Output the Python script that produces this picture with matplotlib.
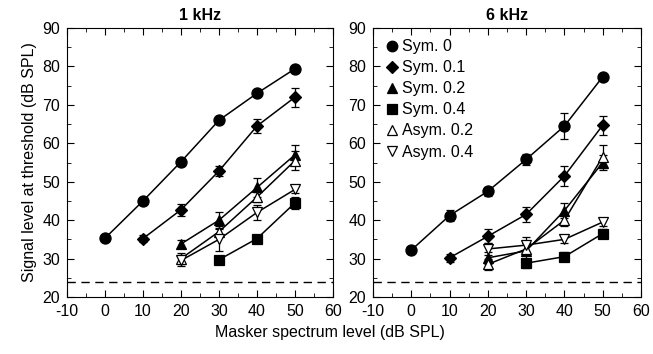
import matplotlib
matplotlib.use("Agg")
import matplotlib.pyplot as plt
from matplotlib.ticker import MultipleLocator
from matplotlib.lines import Line2D

plt.rcParams['font.family'] = ['Liberation Sans', 'DejaVu Sans']
plt.rcParams['axes.unicode_minus'] = False

labels = ["Sym. 0", "Sym. 0.1", "Sym. 0.2", "Sym. 0.4", "Asym. 0.2", "Asym. 0.4"]
markers = ["o", "D", "^", "s", "^", "v"]
filled = [True, True, True, True, False, False]
msizes = [8, 6, 7, 7, 7, 7]

# 1 kHz
k1_x = [[0, 10, 20, 30, 40, 50], [10, 20, 30, 40, 50], [20, 30, 40, 50],
        [30, 40, 50], [20, 30, 40, 50], [20, 30, 40, 50]]
k1_y = [[35.3, 45.0, 55.2, 66.0, 73.0, 79.4],
        [35.2, 42.7, 52.8, 64.5, 72.0],
        [33.8, 40.0, 48.5, 57.0],
        [29.7, 35.2, 44.5],
        [30.0, 37.0, 46.0, 55.5],
        [29.5, 35.0, 42.0, 48.0]]
k1_e = [[0.5, 0.5, 0.5, 0.6, 0.5, 0.5],
        [1.0, 1.5, 1.2, 1.8, 2.5],
        [1.0, 2.2, 2.5, 2.5],
        [0.5, 1.0, 1.5],
        [1.5, 1.5, 1.2, 2.5],
        [1.5, 3.0, 2.0, 1.0]]

# 6 kHz
k6_x = [[0, 10, 20, 30, 40, 50], [10, 20, 30, 40, 50], [20, 30, 40, 50],
        [30, 40, 50], [20, 30, 40, 50], [20, 30, 40, 50]]
k6_y = [[32.2, 41.2, 47.5, 55.8, 64.5, 77.3],
        [30.2, 35.8, 41.5, 51.5, 64.7],
        [30.2, 32.0, 42.5, 55.0],
        [28.8, 30.5, 36.5],
        [28.5, 32.5, 40.0, 56.5],
        [32.5, 33.5, 35.0, 39.5]]
k6_e = [[0.6, 1.5, 1.2, 1.5, 3.5, 0.8],
        [1.0, 1.8, 2.0, 2.5, 2.5],
        [1.5, 2.0, 2.0, 2.0],
        [1.2, 1.2, 1.2],
        [1.5, 1.5, 1.5, 3.0],
        [1.5, 2.0, 1.0, 1.0]]

floor_level = 24

fig = plt.figure(figsize=(6.53, 3.54), dpi=100)
ax1 = fig.add_axes([67/653, 1 - 297/354, 266/653, 269/354])
ax2 = fig.add_axes([373/653, 1 - 297/354, 268/653, 269/354])

for ax, xs, ys, es, title in [(ax1, k1_x, k1_y, k1_e, "1 kHz"),
                              (ax2, k6_x, k6_y, k6_e, "6 kHz")]:
    for i in range(len(labels)):
        ax.errorbar(xs[i], ys[i], yerr=es[i], color="black", lw=1.1,
                    marker=markers[i], ms=msizes[i],
                    mfc="black" if filled[i] else "white", mec="black",
                    mew=0.9, capsize=3, elinewidth=0.9, zorder=3)
    ax.axhline(floor_level, color="black", ls=(0, (6, 4)), lw=1)
    ax.set_xlim(-10, 60)
    ax.set_ylim(20, 90)
    ax.xaxis.set_major_locator(MultipleLocator(10))
    ax.yaxis.set_major_locator(MultipleLocator(10))
    ax.xaxis.set_minor_locator(MultipleLocator(5))
    ax.yaxis.set_minor_locator(MultipleLocator(5))
    ax.tick_params(which="both", direction="in", top=True, right=True,
                   labelsize=11.5, pad=5)
    ax.tick_params(which="major", length=5)
    ax.tick_params(which="minor", length=3)
    ax.set_title(title, fontsize=11.5, fontweight="bold", pad=6)

ax1.set_ylabel("Signal level at threshold (dB SPL)", fontsize=11.5)
fig.text(330/653, 1 - 333/354, "Masker spectrum level (dB SPL)",
         ha="center", va="center", fontsize=11.5)

handles = [Line2D([], [], ls="none", marker=markers[i], ms=msizes[i] * 0.95,
                  mfc="black" if filled[i] else "white", mec="black",
                  mew=0.9, label=labels[i]) for i in range(len(labels))]
ax2.legend(handles=handles, loc="upper left", frameon=False, fontsize=11.5,
           handletextpad=0.1, handlelength=1.0, labelspacing=0.38,
           borderaxespad=0.3)

fig.savefig("out.png", dpi=100)
